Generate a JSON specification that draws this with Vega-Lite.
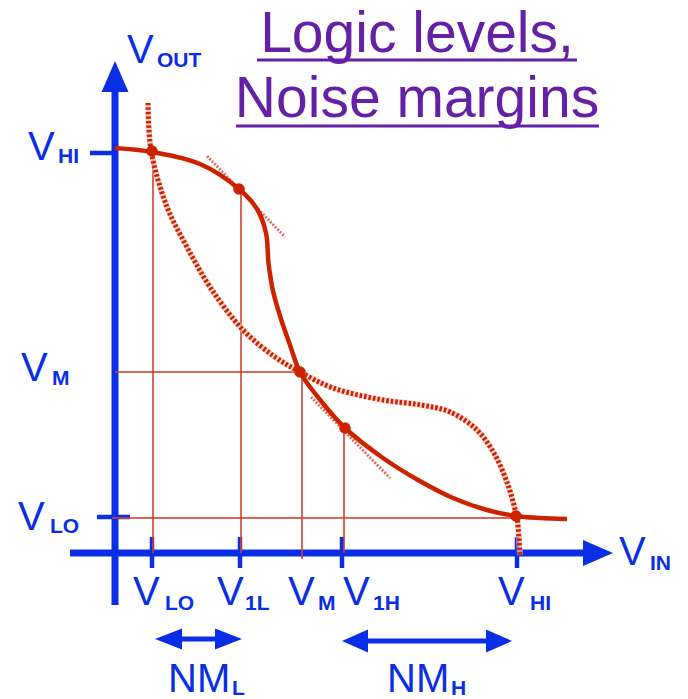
{
  "$schema": "https://vega.github.io/schema/vega-lite/v6.json",
  "width": 688,
  "height": 699,
  "padding": 0,
  "autosize": {"type": "none"},
  "background": "white",
  "config": {"view": {"stroke": null}},
  "encoding": {
    "x": {"field": "x", "type": "quantitative", "scale": {"domain": [-1.15, 5.73], "nice": false, "zero": false}, "axis": null},
    "y": {"field": "y", "type": "quantitative", "scale": {"domain": [-1.46, 5.53], "nice": false, "zero": false}, "axis": null}
  },
  "layer": [
    {
      "description": "Axis shafts",
      "data": {"values": [
        {"x": 0, "y": -0.52, "x2": 0, "y2": 4.73},
        {"x": -0.45, "y": 0, "x2": 4.75, "y2": 0}
      ]},
      "mark": {"type": "rule", "color": "#0a2ee6", "strokeWidth": 7},
      "encoding": {"x2": {"field": "x2"}, "y2": {"field": "y2"}}
    },
    {
      "description": "Tick marks on both axes",
      "data": {"values": [
        {"x": 0.37, "y": 0.16, "x2": 0.37, "y2": -0.15},
        {"x": 1.25, "y": 0.16, "x2": 1.25, "y2": -0.15},
        {"x": 2.27, "y": 0.16, "x2": 2.27, "y2": -0.15},
        {"x": 4.02, "y": 0.16, "x2": 4.02, "y2": -0.15},
        {"x": -0.25, "y": 4.0, "x2": 0, "y2": 4.0},
        {"x": -0.18, "y": 0.36, "x2": 0.15, "y2": 0.36}
      ]},
      "mark": {"type": "rule", "color": "#0a2ee6", "strokeWidth": 4.5},
      "encoding": {"x2": {"field": "x2"}, "y2": {"field": "y2"}}
    },
    {
      "description": "Noise margin arrow shafts",
      "data": {"values": [
        {"x": 0.6, "y": -0.86, "x2": 1.1, "y2": -0.86},
        {"x": 2.45, "y": -0.88, "x2": 3.8, "y2": -0.88}
      ]},
      "mark": {"type": "rule", "color": "#0a2ee6", "strokeWidth": 5},
      "encoding": {"x2": {"field": "x2"}, "y2": {"field": "y2"}}
    },
    {
      "data": {"values": [{"x": 0, "y": 4.765}]},
      "mark": {"type": "point", "filled": true, "opacity": 1, "color": "#0a2ee6", "shape": "M0,-1L0.87,1L-0.87,1Z", "size": 961}
    },
    {
      "data": {"values": [{"x": 4.83, "y": 0}]},
      "mark": {"type": "point", "filled": true, "opacity": 1, "color": "#0a2ee6", "shape": "M1,0L-1,-0.87L-1,0.87Z", "size": 900}
    },
    {
      "data": {"values": [{"x": 0.535, "y": -0.86}]},
      "mark": {"type": "point", "filled": true, "opacity": 1, "color": "#0a2ee6", "shape": "M-1,0L1,-0.78L1,0.78Z", "size": 729}
    },
    {
      "data": {"values": [{"x": 1.135, "y": -0.86}]},
      "mark": {"type": "point", "filled": true, "opacity": 1, "color": "#0a2ee6", "shape": "M1,0L-1,-0.78L-1,0.78Z", "size": 729}
    },
    {
      "data": {"values": [{"x": 2.4, "y": -0.88}]},
      "mark": {"type": "point", "filled": true, "opacity": 1, "color": "#0a2ee6", "shape": "M-1,0L1,-0.88L1,0.88Z", "size": 676}
    },
    {
      "data": {"values": [{"x": 3.84, "y": -0.88}]},
      "mark": {"type": "point", "filled": true, "opacity": 1, "color": "#0a2ee6", "shape": "M1,0L-1,-0.88L-1,0.88Z", "size": 676}
    },
    {
      "description": "Projection lines from the marked points to the axes",
      "data": {"values": [
        {"x": 0.38, "y": 4.01, "x2": 0.38, "y2": 0},
        {"x": 1.26, "y": 3.64, "x2": 1.26, "y2": 0},
        {"x": 1.87, "y": 1.81, "x2": 1.87, "y2": -0.06},
        {"x": 2.29, "y": 1.25, "x2": 2.29, "y2": 0},
        {"x": 0, "y": 1.81, "x2": 1.85, "y2": 1.81},
        {"x": -0.03, "y": 0.35, "x2": 4.01, "y2": 0.35}
      ]},
      "mark": {"type": "rule", "color": "#d2402e", "strokeWidth": 2, "opacity": 0.8},
      "encoding": {"x2": {"field": "x2"}, "y2": {"field": "y2"}}
    },
    {
      "description": "Unity-gain tangents at V1L and V1H",
      "data": {"values": [
        {"x": 0.92, "y": 3.97, "x2": 1.7, "y2": 3.16},
        {"x": 1.96, "y": 1.56, "x2": 2.75, "y2": 0.75}
      ]},
      "mark": {"type": "rule", "color": "#d2402e", "strokeWidth": 3, "strokeDash": [2, 1.5], "opacity": 0.75},
      "encoding": {"x2": {"field": "x2"}, "y2": {"field": "y2"}}
    },
    {
      "description": "Mirrored transfer curve, halo",
      "data": {"name": "inverse"},
      "mark": {"type": "line", "color": "#f3c4bb", "strokeWidth": 6, "interpolate": "catmull-rom", "opacity": 0.7}
    },
    {
      "description": "Mirrored transfer curve",
      "data": {"name": "inverse"},
      "mark": {"type": "line", "color": "#cc2200", "strokeWidth": 5, "strokeDash": [2.5, 2], "interpolate": "catmull-rom"}
    },
    {
      "description": "Inverter voltage transfer characteristic",
      "data": {"values": [
        {"x": 0.0, "y": 4.05}, {"x": 0.37, "y": 4.01}, {"x": 0.85, "y": 3.89},
        {"x": 1.24, "y": 3.64}, {"x": 1.42, "y": 3.44},
        {"x": 1.51, "y": 3.2}, {"x": 1.535, "y": 2.9},
        {"x": 1.58, "y": 2.62}, {"x": 1.66, "y": 2.34},
        {"x": 1.75, "y": 2.08}, {"x": 1.85, "y": 1.81}, {"x": 2.06, "y": 1.52},
        {"x": 2.3, "y": 1.25}, {"x": 2.68, "y": 0.95}, {"x": 3.03, "y": 0.73},
        {"x": 3.38, "y": 0.55}, {"x": 3.72, "y": 0.43}, {"x": 4.01, "y": 0.37},
        {"x": 4.25, "y": 0.35}, {"x": 4.52, "y": 0.34}
      ]},
      "mark": {"type": "line", "color": "#cc2200", "strokeWidth": 4.5, "interpolate": "catmull-rom"}
    },
    {
      "description": "Operating points",
      "data": {"values": [
        {"x": 0.37, "y": 4.02}, {"x": 1.24, "y": 3.64}, {"x": 1.85, "y": 1.81},
        {"x": 2.3, "y": 1.25}, {"x": 4.01, "y": 0.37}
      ]},
      "mark": {"type": "point", "shape": "circle", "filled": true, "opacity": 1, "color": "#cc2200", "size": 135}
    },
    {
      "description": "Main letters",
      "data": {"values": [
        {"x": 0.12, "y": 4.9, "t": "V"},
        {"x": -0.87, "y": 3.93, "t": "V"},
        {"x": -0.94, "y": 1.72, "t": "V"},
        {"x": -0.97, "y": 0.23, "t": "V"},
        {"x": 0.18, "y": -0.52, "t": "V"},
        {"x": 1.02, "y": -0.52, "t": "V"},
        {"x": 1.73, "y": -0.52, "t": "V"},
        {"x": 2.28, "y": -0.52, "t": "V"},
        {"x": 3.83, "y": -0.52, "t": "V"},
        {"x": 5.04, "y": -0.12, "t": "V"},
        {"x": 0.53, "y": -1.39, "t": "NM"},
        {"x": 2.72, "y": -1.39, "t": "NM"}
      ]},
      "mark": {"type": "text", "font": "Liberation Sans", "fontSize": 40, "color": "#0a2ee6", "align": "left", "baseline": "alphabetic"},
      "encoding": {"text": {"field": "t"}}
    },
    {
      "description": "Subscripts",
      "data": {"values": [
        {"x": 0.42, "y": 4.86, "t": "OUT"},
        {"x": -0.57, "y": 3.9, "t": "HI"},
        {"x": -0.63, "y": 1.68, "t": "M"},
        {"x": -0.65, "y": 0.2, "t": "LO"},
        {"x": 0.5, "y": -0.57, "t": "LO"},
        {"x": 1.3, "y": -0.57, "t": "1L"},
        {"x": 2.03, "y": -0.57, "t": "M"},
        {"x": 2.58, "y": -0.57, "t": "1H"},
        {"x": 4.15, "y": -0.57, "t": "HI"},
        {"x": 5.35, "y": -0.17, "t": "IN"},
        {"x": 1.17, "y": -1.42, "t": "L"},
        {"x": 3.36, "y": -1.42, "t": "H"}
      ]},
      "mark": {"type": "text", "font": "Liberation Sans", "fontSize": 21, "fontWeight": "bold", "color": "#0a2ee6", "align": "left", "baseline": "alphabetic"},
      "encoding": {"text": {"field": "t"}}
    },
    {
      "description": "Title",
      "data": {"values": [
        {"x": 3.02, "y": 5.01, "t": "Logic levels,"},
        {"x": 3.02, "y": 4.36, "t": "Noise margins"}
      ]},
      "mark": {"type": "text", "font": "Liberation Sans", "fontSize": 57, "color": "#6421a6", "align": "center", "baseline": "alphabetic"},
      "encoding": {"text": {"field": "t"}}
    },
    {
      "description": "Title underlines",
      "data": {"values": [
        {"x": 1.42, "y": 4.93, "x2": 4.62, "y2": 4.93},
        {"x": 1.21, "y": 4.27, "x2": 4.84, "y2": 4.27}
      ]},
      "mark": {"type": "rule", "color": "#6421a6", "strokeWidth": 3},
      "encoding": {"x2": {"field": "x2"}, "y2": {"field": "y2"}}
    }
  ],
  "datasets": {
    "inverse": [
      {"x": 0.33, "y": 4.5}, {"x": 0.36, "y": 4.03},
      {"x": 0.52, "y": 3.46}, {"x": 0.72, "y": 3.06}, {"x": 0.95, "y": 2.66},
      {"x": 1.28, "y": 2.23}, {"x": 1.6, "y": 1.96}, {"x": 1.85, "y": 1.81},
      {"x": 2.18, "y": 1.65}, {"x": 2.68, "y": 1.53}, {"x": 3.06, "y": 1.48},
      {"x": 3.35, "y": 1.41}, {"x": 3.62, "y": 1.23},
      {"x": 3.8, "y": 0.98}, {"x": 3.93, "y": 0.68},
      {"x": 4.0, "y": 0.44}, {"x": 4.02, "y": 0.36}, {"x": 4.05, "y": -0.02}
    ]
  }
}
